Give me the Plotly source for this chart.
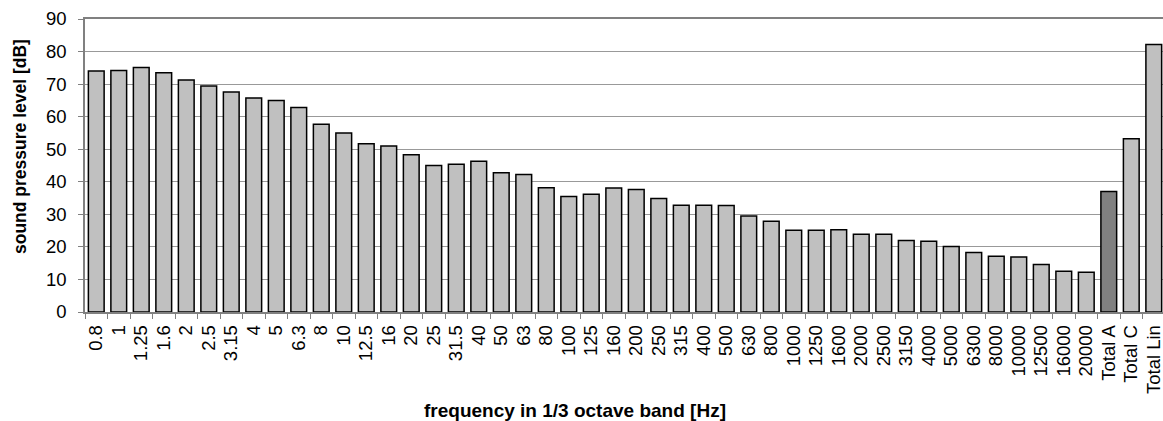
import plotly.graph_objects as go

bands = ["0.8", "1", "1.25", "1.6", "2", "2.5", "3.15", "4", "5", "6.3", "8", "10",
         "12.5", "16", "20", "25", "31.5", "40", "50", "63", "80", "100", "125", "160",
         "200", "250", "315", "400", "500", "630", "800", "1000", "1250", "1600", "2000",
         "2500", "3150", "4000", "5000", "6300", "8000", "10000", "12500", "16000", "20000"]
band_levels = [74.0, 74.2, 75.1, 73.5, 71.3, 69.4, 67.6, 65.7, 65.0, 62.8, 57.7, 55.0,
               51.7, 51.0, 48.3, 45.0, 45.4, 46.3, 42.8, 42.2, 38.2, 35.5, 36.2, 38.1,
               37.6, 34.9, 32.8, 32.8, 32.7, 29.5, 27.9, 25.1, 25.1, 25.3, 23.9,
               23.9, 22.0, 21.7, 20.1, 18.3, 17.1, 16.9, 14.6, 12.5, 12.2]
totals = ["Total A", "Total C", "Total Lin"]
total_levels = [37.0, 53.2, 82.2]

x_title = "frequency in 1/3 octave band [Hz]"
y_title = "sound pressure level [dB]"

categories = bands + totals
values = band_levels + total_levels
colors = ["#C0C0C0"] * len(bands) + ["#808080", "#C0C0C0", "#C0C0C0"]

fig = go.Figure(go.Bar(
    x=categories, y=values,
    marker=dict(color=colors, line=dict(color="#000000", width=1.5)),
))

font = "Liberation Sans, Arial, sans-serif"
fig.update_layout(
    width=1163, height=421,
    margin=dict(l=85, r=0, t=19, b=109),
    plot_bgcolor="white", paper_bgcolor="white",
    bargap=0.3, showlegend=False,
    font=dict(family=font, size=18, color="black"),
)
fig.update_xaxes(
    type="category", range=[-0.5, 47.41], tickangle=-90,
    showline=True, mirror=True, linecolor="#808080", linewidth=1.5,
    ticks="outside", tickson="boundaries", ticklen=5, tickcolor="#808080",
    showgrid=False, ticklabelstandoff=4,
    tickfont=dict(size=18.5),
)
fig.update_yaxes(
    range=[0, 90], dtick=10,
    showline=True, linecolor="#808080", linewidth=1.5,
    ticks="outside", ticklen=5, tickcolor="#808080",
    showgrid=True, gridcolor="#999999", gridwidth=1,
    zeroline=False, ticklabelstandoff=8,
    tickfont=dict(size=18.5),
)
fig.add_annotation(
    text="<b>" + x_title + "</b>", xref="paper", yref="paper",
    x=(575 - 85) / 1078, y=(312 - 410) / 293, xanchor="center", yanchor="middle",
    showarrow=False, font=dict(size=19),
)
fig.add_annotation(
    text="<b>" + y_title + "</b>", xref="paper", yref="paper", textangle=-90,
    x=(20 - 85) / 1078, y=(312 - 147) / 293, xanchor="center", yanchor="middle",
    showarrow=False, font=dict(size=17.5),
)
fig.write_html("out.html", config={"displayModeBar": False},
               post_script="document.body.style.margin='0';document.body.style.overflow='hidden';")
